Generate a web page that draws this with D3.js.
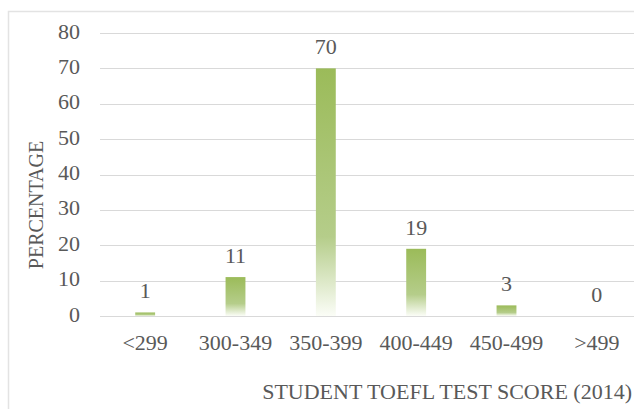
<!DOCTYPE html>
<html>
<head>
<meta charset="utf-8">
<script src="https://cdn.jsdelivr.net/npm/d3@7"></script>
<style>
  html, body { margin: 0; padding: 0; background: #fff; }
</style>
</head>
<body>
<div id="chart"></div>
<script>
const categories = ['<299', '300-349', '350-399', '400-449', '450-499', '>499'];
const percentages = [1, 11, 70, 19, 3, 0];
const yTicks = [0, 10, 20, 30, 40, 50, 60, 70, 80];

const WIDTH = 634, HEIGHT = 409;
const GRADIENT_ID = 'bar-gradient';
const FONT = "'Liberation Serif', 'Times New Roman', Times, 'DejaVu Serif', serif";
const STRETCH = 1.1; // text in the picture is a little wide

const svg = d3.select('#chart')
    .append('svg')
    .attr('width', WIDTH)
    .attr('height', HEIGHT)
    .attr('font-family', FONT)
    .style('font-family', FONT);

const defs = svg.append('defs');
const gradient = defs.append('linearGradient')
    .attr('id', GRADIENT_ID)
    .attr('x1', '0%').attr('x2', '0%')
    .attr('y1', '0%').attr('y2', '100%');
[['0%', '#9bbb59'], ['68%', '#b5cd8a'], ['100%', '#fbfdf7']]
    .forEach(([offset, color]) => gradient.append('stop')
        .attr('offset', offset)
        .attr('stop-color', color));

// chart frame (cropped at right and bottom)
svg.append('path')
    .attr('d', `M8.5,${HEIGHT} V11.5 H${WIDTH}`)
    .attr('fill', 'none')
    .attr('stroke', '#e3e3e3')
    .attr('stroke-width', 1.5);

const x = d3.scaleBand()
    .domain(categories)
    .range([100, 642])
    .paddingInner(0.78)
    .paddingOuter(0.39);

const y = d3.scaleLinear()
    .domain([0, 80])
    .range([316, 33]);

function stretched(sel, tx, ty) {
    return sel.attr('transform', (d, i) => `translate(${tx(d, i)},${ty(d, i)}) scale(${STRETCH},1)`);
}

function label(sel) {
    return sel.attr('font-size', 20)
        .attr('font-family', FONT)
        .style('font-family', FONT)
        .attr('fill', '#595959');
}

// gridlines
svg.append('g')
    .selectAll('line')
    .data(yTicks)
    .join('line')
    .attr('x1', 100)
    .attr('x2', 642)
    .attr('y1', d => Math.round(y(d)) + 0.5)
    .attr('y2', d => Math.round(y(d)) + 0.5)
    .attr('stroke', '#d9d9d9')
    .attr('stroke-width', 1.2);

// y tick labels
svg.append('g')
    .selectAll('text')
    .data(yTicks)
    .join('text')
    .call(label)
    .attr('text-anchor', 'end')
    .call(stretched, () => 80, d => y(d) + 5.5)
    .text(d => d);

// bars
svg.append('g')
    .selectAll('rect')
    .data(percentages)
    .join('rect')
    .attr('x', (d, i) => x(categories[i]))
    .attr('width', x.bandwidth())
    .attr('y', d => y(d))
    .attr('height', d => y(0) - y(d))
    .attr('fill', `url(#${GRADIENT_ID})`);

// value labels
svg.append('g')
    .selectAll('text')
    .data(percentages)
    .join('text')
    .call(label)
    .attr('text-anchor', 'middle')
    .call(stretched, (d, i) => x(categories[i]) + x.bandwidth() / 2, d => y(d) - 14)
    .text(d => d);

// category labels
svg.append('g')
    .selectAll('text')
    .data(categories)
    .join('text')
    .call(label)
    .attr('text-anchor', 'middle')
    .call(stretched, d => x(d) + x.bandwidth() / 2, () => 350)
    .text(d => d);

// axis titles
svg.append('text')
    .call(label)
    .attr('text-anchor', 'middle')
    .attr('transform', `translate(43,205) rotate(-90) scale(1,${STRETCH})`)
    .text('PERCENTAGE');

svg.append('text')
    .call(label)
    .attr('text-anchor', 'end')
    .attr('transform', `translate(632,399) scale(${STRETCH},1)`)
    .text('STUDENT TOEFL TEST SCORE (2014)');
</script>
</body>
</html>
